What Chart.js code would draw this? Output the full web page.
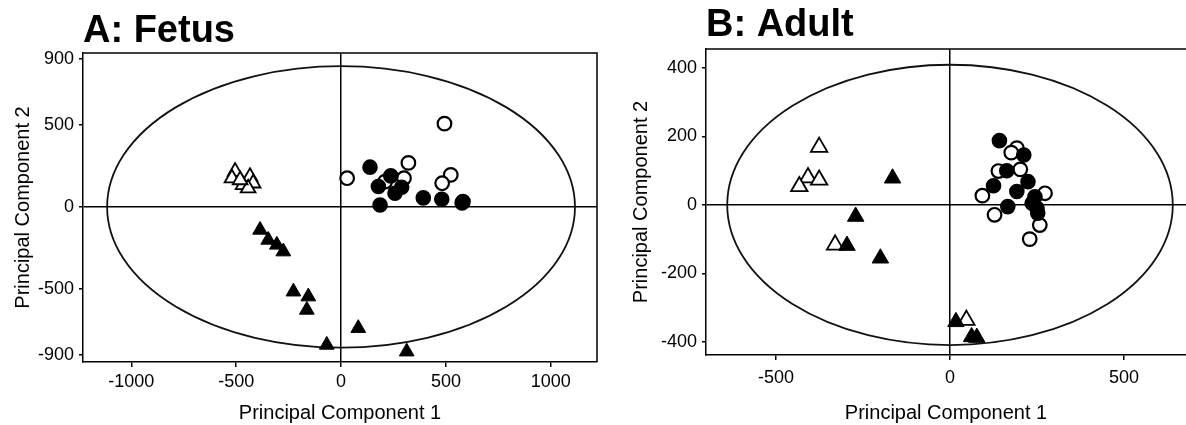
<!DOCTYPE html>
<html lang="en">
<head>
<meta charset="UTF-8">
<title>PCA Fetus / Adult</title>
<script src="https://cdn.jsdelivr.net/npm/chart.js"></script>
<style>
  body { margin: 0; background: #fff; width: 1186px; height: 425px; overflow: hidden; position: relative; }
  canvas { position: absolute; top: 0; }
  #graficoA { left: 0; }
  #graficoB { left: 600px; }
</style>
</head>
<body>
<canvas id="graficoA" width="600" height="425"></canvas>
<canvas id="graficoB" width="586" height="425"></canvas>
<script>
// ---- A: Fetus ----
const fetoCirculoCheio = [[138,242],[237,189],[178,124],[257,83],[289,120],[186,12],[392,55],[480,47],[577,24]];
const fetoCirculoAberto = [[29,175],[321,268],[210,154],[300,175],[493,507],[523,195],[482,144],[581,32]];
const fetoTrianguloCheio = [[-386,-140],[-347,-201],[-306,-231],[-275,-272],[-227,-516],[-156,-546],[-163,-627],[-68,-840],[82,-738],[313,-881]];
const fetoTrianguloAberto = [[-505,215],[-520,175],[-434,184],[-419,144],[-467,134],[-443,114],[-481,164]];
const fetoTicksX = [-1000, -500, 0, 500, 1000];
const fetoTicksY = [900, 500, 0, -500, -900];
const fetoLimX = [-1230, 1220];
const fetoLimY = [-944, 937];
const fetoElipse = [1115, 857];

// ---- B: Adult ----
const adultoCirculoCheio = [[142,188],[212,146],[163,100],[125,56],[224,68],[192,39],[244,24],[250,-10],[166,-5],[236,5],[252,-24]];
const adultoCirculoAberto = [[192,166],[176,153],[139,99],[202,104],[93,27],[273,34],[128,-29],[258,-59],[229,-100]];
const adultoTrianguloCheio = [[-165,78],[-271,-34],[-296,-119],[-200,-156],[17,-342],[62,-386],[77,-388]];
const adultoTrianguloAberto = [[-376,169],[-408,80],[-376,73],[-433,54],[-330,-117],[47,-337]];
const adultoTicksX = [-500, 0, 500];
const adultoTicksY = [400, 200, 0, -200, -400];
const adultoLimX = [-701, 678];
const adultoLimY = [-439, 456];
const adultoElipse = [640, 410];

const pontos = arr => arr.map(p => ({ x: p[0], y: p[1] }));
const fonte = "'Liberation Sans', Arial, Helvetica, sans-serif";

// elipse + moldura superior/direita
const pluginElipse = {
  id: 'elipse',
  beforeDatasetsDraw(chart, args, opts) {
    const { ctx, chartArea: a, scales: { x, y } } = chart;
    const cx = x.getPixelForValue(0), cy = y.getPixelForValue(0);
    const rx = Math.abs(x.getPixelForValue(opts.raio[0]) - cx);
    const ry = Math.abs(y.getPixelForValue(opts.raio[1]) - cy);
    ctx.save();
    ctx.strokeStyle = '#111';
    ctx.lineWidth = 1.8;
    ctx.beginPath();
    ctx.ellipse(cx, cy, rx, ry, 0, 0, Math.PI * 2);
    ctx.stroke();
    // moldura
    ctx.strokeStyle = '#000';
    ctx.lineWidth = 1.5;
    ctx.beginPath();
    ctx.moveTo(a.left, a.top);
    ctx.lineTo(a.right, a.top);
    if (opts.direita) ctx.lineTo(a.right, a.bottom);
    ctx.stroke();
    ctx.restore();
  }
};

function semPadding(s) {
  s.paddingLeft = 0; s.paddingRight = 0; s.paddingTop = 0; s.paddingBottom = 0;
}

function montarGrafico(id, cfg) {
  const tri = cfg.raioTri;
  return new Chart(document.getElementById(id), {
    type: 'scatter',
    data: {
      datasets: [
        { data: pontos(cfg.circCheio), pointStyle: 'circle', pointRadius: 6.8, backgroundColor: '#000', borderColor: '#000', borderWidth: 2 },
        { data: pontos(cfg.circAberto), pointStyle: 'circle', pointRadius: 6.8, backgroundColor: '#fff', borderColor: '#000', borderWidth: 2.2 },
        { data: pontos(cfg.triCheio), pointStyle: 'triangle', pointRadius: tri, backgroundColor: '#000', borderColor: '#000', borderWidth: 1 },
        { data: pontos(cfg.triAberto), pointStyle: 'triangle', pointRadius: tri, backgroundColor: '#fff', borderColor: '#000', borderWidth: 1.8 }
      ]
    },
    options: {
      responsive: false,
      animation: false,
      events: [],
      layout: { autoPadding: false, padding: { left: 0, right: cfg.padDir, top: 0, bottom: 0 } },
      plugins: {
        legend: { display: false },
        tooltip: { enabled: false },
        title: {
          display: true, text: cfg.titulo, align: 'start', fullSize: false,
          color: '#000', font: { family: fonte, size: 38, weight: 'bold', lineHeight: 1 },
          padding: { top: cfg.titPad[0], bottom: cfg.titPad[1] }
        },
        elipse: { raio: cfg.elipse, direita: cfg.direita }
      },
      scales: {
        x: {
          type: 'linear', min: cfg.limX[0], max: cfg.limX[1],
          afterBuildTicks: s => { s.ticks = cfg.ticksX.map(v => ({ value: v })); },
          afterFit: s => { s.height = cfg.altX; semPadding(s); },
          ticks: { color: '#000', font: { family: fonte, size: 18 }, padding: cfg.tickPadX, callback: v => String(v), maxRotation: 0 },
          grid: { color: c => c.tick && c.tick.value === 0 ? '#000' : 'transparent', lineWidth: 1.5, tickColor: '#000', tickLength: 5 },
          border: { display: true, color: '#000', width: 1.5 },
          title: { display: true, text: 'Principal Component 1', color: '#000', font: { family: fonte, size: 20 }, padding: { top: 0, bottom: 0 } }
        },
        y: {
          type: 'linear', min: cfg.limY[0], max: cfg.limY[1],
          afterBuildTicks: s => { s.ticks = cfg.ticksY.map(v => ({ value: v })); },
          afterFit: s => { s.width = cfg.largY; semPadding(s); },
          ticks: { color: '#000', font: { family: fonte, size: 18 }, padding: 5, callback: v => String(v) },
          grid: { color: c => c.tick && c.tick.value === 0 ? '#000' : 'transparent', lineWidth: 1.5, tickColor: '#000', tickLength: 4 },
          border: { display: true, color: '#000', width: 1.5 },
          title: { display: true, text: 'Principal Component 2', color: '#000', font: { family: fonte, size: 20 }, padding: { top: cfg.titYPad, bottom: 0 } }
        }
      }
    },
    plugins: [pluginElipse]
  });
}

montarGrafico('graficoA', {
  titulo: 'A: Fetus',
  circCheio: fetoCirculoCheio, circAberto: fetoCirculoAberto,
  triCheio: fetoTrianguloCheio, triAberto: fetoTrianguloAberto,
  ticksX: fetoTicksX, ticksY: fetoTicksY, limX: fetoLimX, limY: fetoLimY,
  elipse: fetoElipse, direita: true, raioTri: 8.5,
  largY: 83, altX: 63, padDir: 3, titPad: [12.3, 2.7], titYPad: 11, tickPadX: 4
});

montarGrafico('graficoB', {
  titulo: 'B: Adult',
  circCheio: adultoCirculoCheio, circAberto: adultoCirculoAberto,
  triCheio: adultoTrianguloCheio, triAberto: adultoTrianguloAberto,
  ticksX: adultoTicksX, ticksY: adultoTicksY, limX: adultoLimX, limY: adultoLimY,
  elipse: adultoElipse, direita: false, raioTri: 9.5,
  largY: 106, altX: 70, padDir: 0, titPad: [6.8, 4.2], titYPad: 29, tickPadX: 7
});
</script>
</body>
</html>
